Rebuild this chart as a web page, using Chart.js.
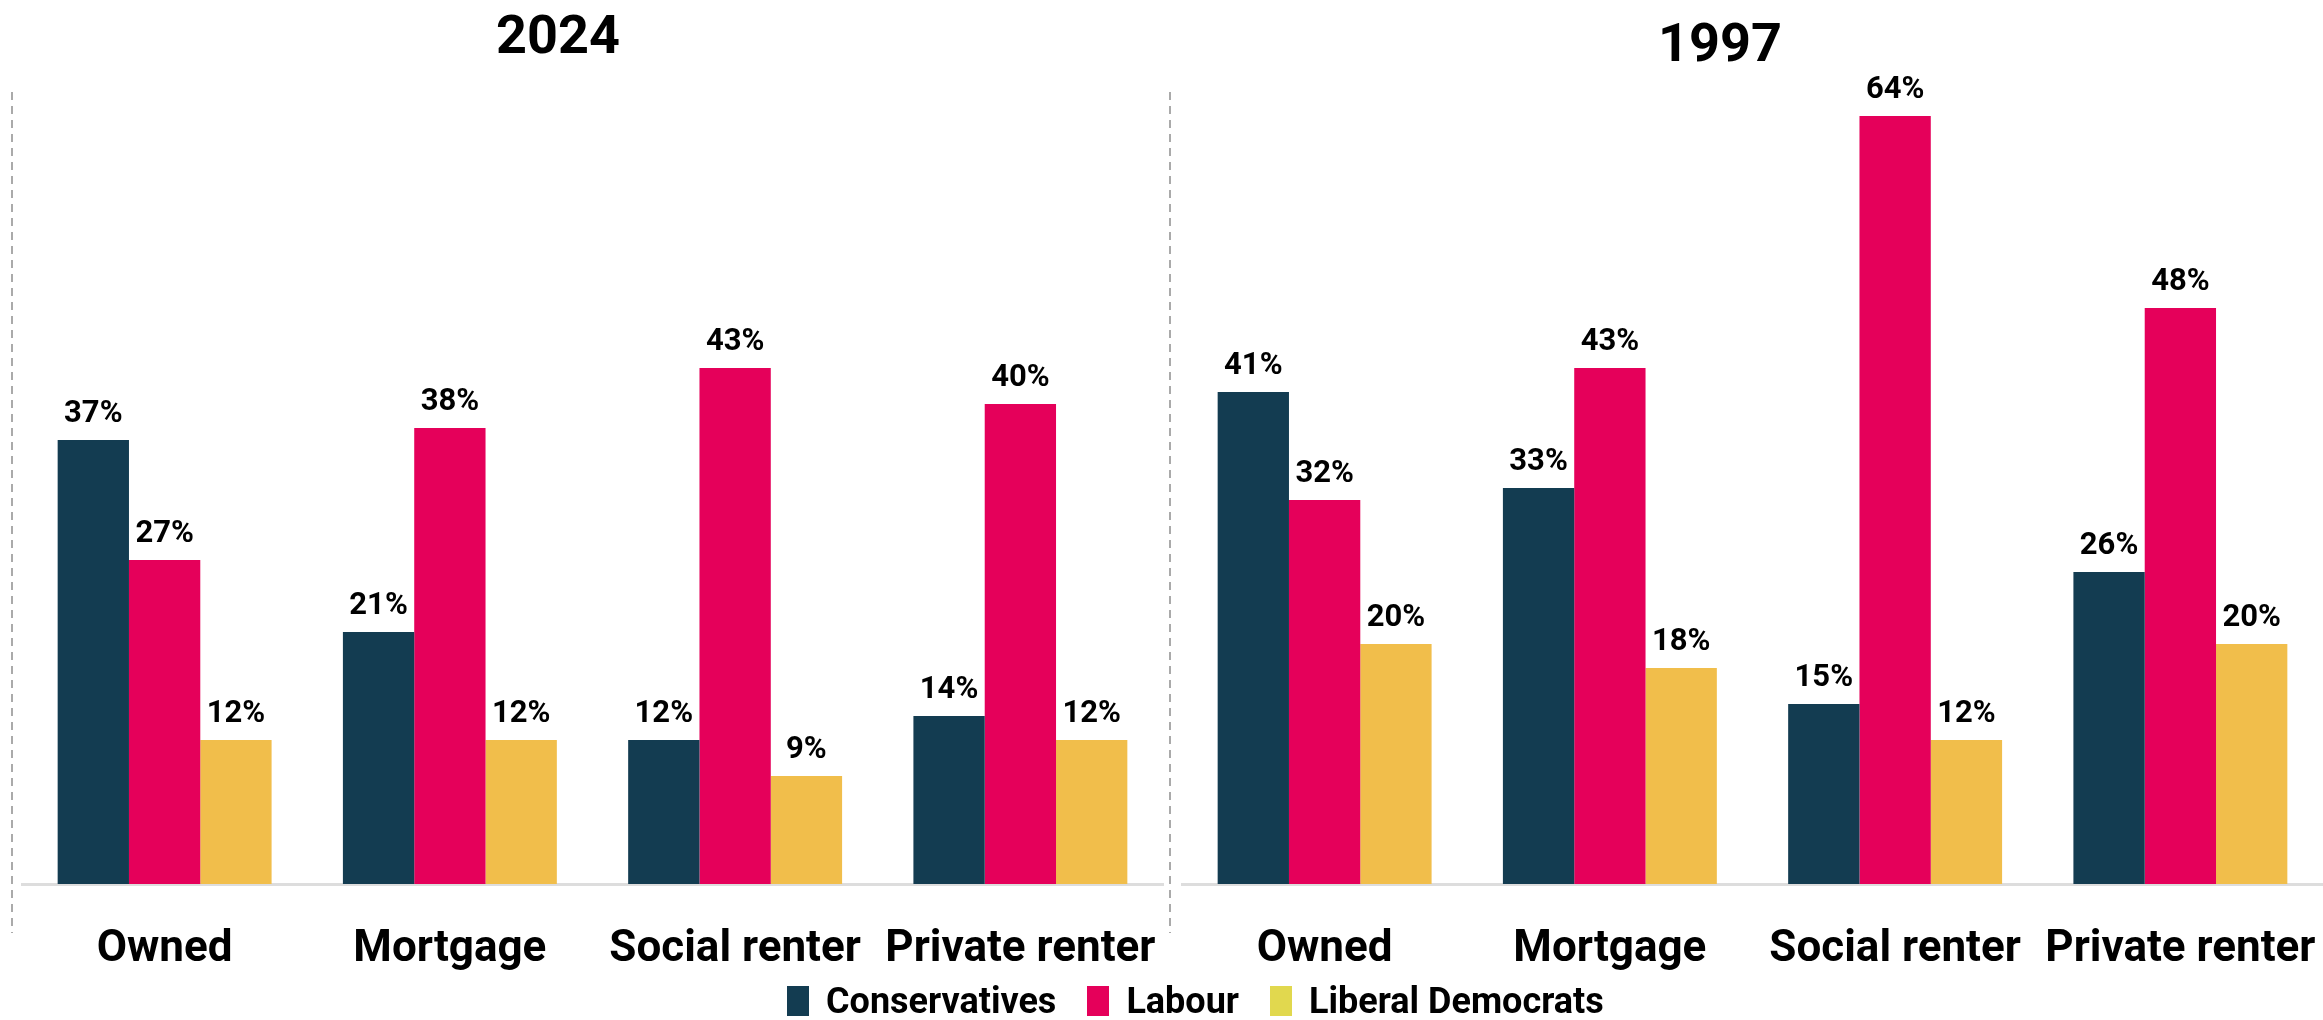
<!DOCTYPE html>
<html>
<head>
<meta charset="utf-8">
<script src="https://cdn.jsdelivr.net/npm/chart.js@4"></script>
<style>
  body { margin: 0; background: #fff; font-family: Roboto, sans-serif; }
  #page { position: relative; width: 2323px; height: 1020px; overflow: hidden; background: #fff; }
  .panel { position: absolute; top: 0; height: 1020px; }
  #leftPanel { left: 0; width: 1170px; }
  #rightPanel { left: 1170px; width: 1153px; }
  .title { position: absolute; font-weight: 700; font-size: 54px; line-height: 54px; color: #000; transform: translateX(-50%); }
  .sep { position: absolute; width: 2px; top: 92px; height: 841px;
         background: repeating-linear-gradient(to bottom, #aaa 0 8px, transparent 8px 14px); }
  #legend { position: absolute; left: 787px; top: 983px; display: flex; align-items: center;
            font-weight: 700; font-size: 36px; line-height: 36px; color: #000; }
  .item { display: flex; align-items: center; margin-right: 31px; }
  .box { width: 22px; height: 30px; margin-right: 17px; }
</style>
</head>
<body>
<div id="page">
  <div class="sep" style="left:11px"></div>
  <div class="sep" style="left:1169px"></div>
  <div class="panel" id="leftPanel"><canvas id="chart2024"></canvas></div>
  <div class="panel" id="rightPanel"><canvas id="chart1997"></canvas></div>
  <div class="title" style="left:558px; top:8px">2024</div>
  <div class="title" style="left:1720px; top:16px">1997</div>
  <div id="legend"></div>
</div>
<script>
// données
const categories = ['Owned', 'Mortgage', 'Social renter', 'Private renter'];
const parties = ['Conservatives', 'Labour', 'Liberal Democrats'];

const con2024 = [37, 21, 12, 14];
const lab2024 = [27, 38, 43, 40];
const ld2024 = [12, 12, 9, 12];

const con1997 = [41, 33, 15, 26];
const lab1997 = [32, 43, 64, 48];
const ld1997 = [20, 18, 12, 20];

const barColours = ['#133c51', '#e5005a', '#f1be4b'];
const legendColours = ['#133c51', '#e5005a', '#e1d84e'];

// étiquettes de valeur au-dessus des barres
const valueLabels = {
    id: 'valueLabels',
    afterDatasetsDraw(chart) {
        const ctx = chart.ctx;
        ctx.save();
        ctx.font = 'bold 31px Roboto';
        ctx.fillStyle = '#000';
        ctx.textAlign = 'center';
        ctx.textBaseline = 'alphabetic';
        chart.data.datasets.forEach((ds, i) => {
            chart.getDatasetMeta(i).data.forEach((bar, j) => {
                ctx.fillText(ds.data[j] + '%', bar.x, bar.y - 18);
            });
        });
        ctx.restore();
    }
};

function makeChart(id, con, lab, ld, padLeft, padRight) {
    const series = [con, lab, ld];
    new Chart(document.getElementById(id), {
        type: 'bar',
        data: {
            labels: categories,
            datasets: series.map((values, i) => ({
                label: parties[i],
                data: values,
                backgroundColor: barColours[i],
                borderWidth: 0,
                barPercentage: 1,
                categoryPercentage: 0.75
            }))
        },
        options: {
            responsive: true,
            maintainAspectRatio: false,
            animation: false,
            layout: { padding: { left: padLeft, right: padRight, top: 44, bottom: 0 } },
            plugins: {
                legend: { display: false },
                tooltip: { enabled: false }
            },
            scales: {
                x: {
                    grid: { display: false, drawTicks: false },
                    border: { display: true, color: '#dddddd', width: 3 },
                    ticks: {
                        color: '#000',
                        padding: 40,
                        font: { family: 'Roboto', size: 44, weight: 'bold' }
                    },
                    afterFit(axis) {
                        // hauteur fixe, pas de marge latérale pour les libellés
                        axis.height = 136;
                        axis.paddingLeft = 0;
                        axis.paddingRight = 0;
                    }
                },
                y: { display: false, min: 0, max: 70 }
            }
        },
        plugins: [valueLabels]
    });
}

makeChart('chart2024', con2024, lab2024, ld2024, 22, 7);
makeChart('chart1997', con1997, lab1997, ld1997, 12, 0);

// légende commune
const legend = document.getElementById('legend');
parties.forEach((name, i) => {
    const item = document.createElement('div');
    item.className = 'item';
    const box = document.createElement('span');
    box.className = 'box';
    box.style.background = legendColours[i];
    const txt = document.createElement('span');
    txt.textContent = name;
    item.appendChild(box);
    item.appendChild(txt);
    legend.appendChild(item);
});
</script>
</body>
</html>
